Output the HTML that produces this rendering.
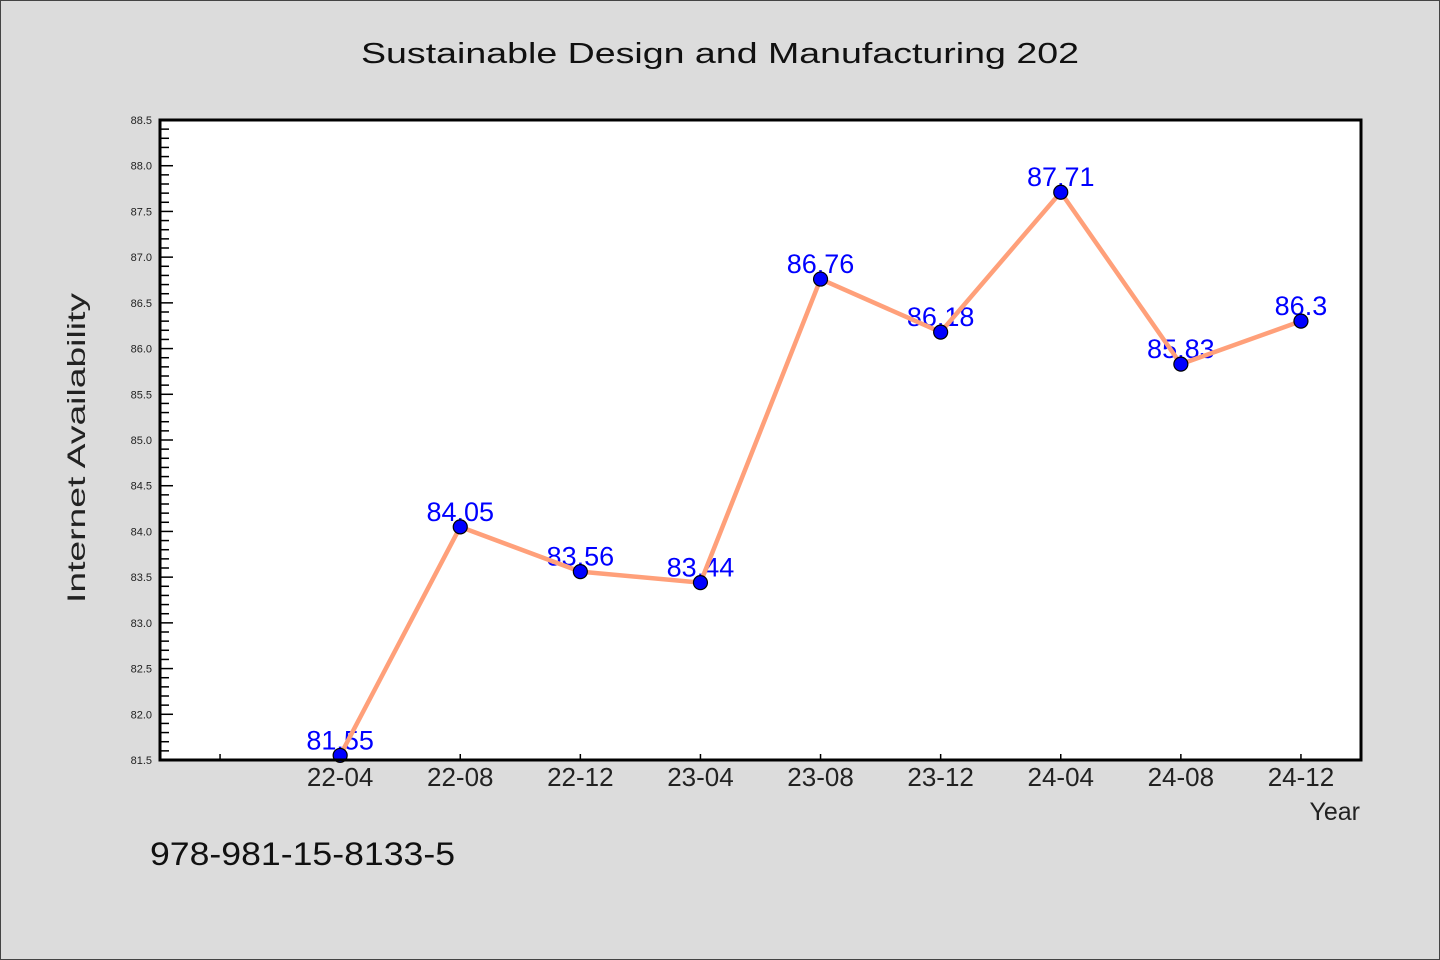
<!DOCTYPE html>
<html><head><meta charset="utf-8"><style>
html,body{margin:0;padding:0;background:#dcdcdc;}
svg{display:block;}
text{font-family:"WenQuanYi Zen Hei","Liberation Sans",sans-serif;}
</style></head><body>
<svg id="chart" width="1440" height="960" xmlns="http://www.w3.org/2000/svg">
<rect x="0.5" y="0.5" width="1439" height="959" fill="#dcdcdc" stroke="#444" stroke-width="1"/>
<text x="720" y="63" text-anchor="middle" font-size="29" fill="#111" textLength="718" lengthAdjust="spacingAndGlyphs">Sustainable Design and Manufacturing 202</text>
<rect x="160" y="120" width="1201" height="640" fill="#fff"/>
<g id="yticks"></g><g id="xticks"></g><g id="labels"></g><g id="series"></g>
<rect x="160" y="120" width="1201" height="640" fill="none" stroke="#000" stroke-width="3"/>
<text transform="translate(85,448) rotate(-90)" text-anchor="middle" font-size="25" fill="#222" textLength="310" lengthAdjust="spacingAndGlyphs">Internet Availability</text>
<text x="1360" y="820" text-anchor="end" font-size="25" fill="#222">Year</text>
<text x="150" y="865" font-size="32" fill="#111" textLength="305" lengthAdjust="spacingAndGlyphs">978-981-15-8133-5</text>
</svg>
<script>
const categories=["22-04","22-08","22-12","23-04","23-08","23-12","24-04","24-08","24-12"];
const values=[81.55,84.05,83.56,83.44,86.76,86.18,87.71,85.83,86.3];
const valueLabels=["81.55","84.05","83.56","83.44","86.76","86.18","87.71","85.83","86.3"];
const yTickLabels=["81.5","82.0","82.5","83.0","83.5","84.0","84.5","85.0","85.5","86.0","86.5","87.0","87.5","88.0","88.5"];
const Y0=81.5,Y1=88.5,PT=120,PB=760,PL=160,PR=1361;
const y=v=>PB-(v-Y0)/(Y1-Y0)*(PB-PT);
const x=i=>PL+(i+1.5)/10*(PR-PL);
const NS="http://www.w3.org/2000/svg";
function mk(tag,attrs,parent){const e=document.createElementNS(NS,tag);for(const k in attrs)e.setAttribute(k,attrs[k]);parent.appendChild(e);return e;}
const yt=document.getElementById('yticks');
for(let k=0;k<=70;k++){const v=Y0+k*0.1,yy=y(v);const major=k%5===0;
 const t=mk('line',{x1:PL,x2:PL+(major?13:9),y1:yy,y2:yy,stroke:'#000','stroke-width':1.5},yt);
 
 }
yTickLabels.forEach(s=>{const t=mk('text',{x:152,y:y(parseFloat(s))+4,'text-anchor':'end','font-size':11,fill:'#222'},yt);t.textContent=s;
 
 });
const xt=document.getElementById('xticks');
for(let i=-1;i<categories.length;i++){const t=mk('line',{x1:x(i),x2:x(i),y1:PB,y2:PB-6,stroke:'#000','stroke-width':1.5},xt);
 
 }
categories.forEach((c,i)=>{const t=mk('text',{x:x(i),y:786,'text-anchor':'middle','font-size':26,fill:'#222'},xt);t.textContent=c;
 
 });
const lb=document.getElementById('labels');
values.forEach((v,i)=>{const t=mk('text',{x:x(i),y:y(v)-6,'text-anchor':'middle','font-size':27,fill:'#0000ff'},lb);t.textContent=valueLabels[i];
 
 });
const sr=document.getElementById('series');
const pl=mk('polyline',{points:values.map((v,i)=>x(i)+','+y(v)).join(' '),fill:'none',stroke:'#ffa07a','stroke-width':4.5,'stroke-linejoin':'round'},sr);


values.forEach((v,i)=>{const c=mk('circle',{cx:x(i),cy:y(v),r:7,fill:'#0000ff',stroke:'#000','stroke-width':1.2},sr);
 
 });
</script>
</body></html>
